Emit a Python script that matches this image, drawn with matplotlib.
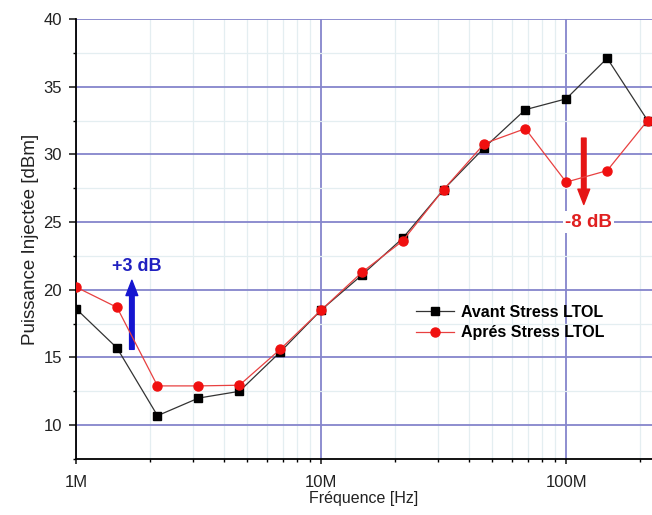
import numpy as np
import matplotlib
matplotlib.use('Agg')
import matplotlib.pyplot as plt
from matplotlib.ticker import FixedLocator, FixedFormatter, MultipleLocator, LogLocator, NullFormatter

plt.rcParams['font.family'] = ['Liberation Sans', 'DejaVu Sans']

# donnees
freq = [1e6, 1.47e6, 2.15e6, 3.16e6, 4.64e6, 6.81e6, 1e7, 1.47e7, 2.15e7,
        3.16e7, 4.64e7, 6.81e7, 1e8, 1.47e8, 2.15e8]
avant = [18.6, 15.7, 10.7, 12.0, 12.5, 15.4, 18.5, 21.1, 23.8,
         27.4, 30.5, 33.3, 34.1, 37.1, 32.5]
apres = [20.2, 18.7, 12.9, 12.9, 12.95, 15.6, 18.5, 21.3, 23.6,
         27.4, 30.8, 31.9, 27.95, 28.8, 32.5]

xticks = [1e6, 1e7, 1e8]
xticklabels = ['1M', '10M', '100M']
yticks = [10, 15, 20, 25, 30, 35, 40]

fig = plt.figure(figsize=(6.52, 5.15), dpi=100)
ax = fig.add_axes([0.1166, 0.1087, 0.8834, 0.8545])

ax.set_xscale('log')
ax.set_xlim(1e6, 2.24e8)
ax.set_ylim(7.5, 40)

# grilles
ax.xaxis.set_major_locator(FixedLocator(xticks))
ax.xaxis.set_major_formatter(FixedFormatter(xticklabels))
ax.xaxis.set_minor_locator(LogLocator(base=10, subs=np.arange(2, 10)))
ax.xaxis.set_minor_formatter(NullFormatter())
ax.yaxis.set_major_locator(FixedLocator(yticks))
ax.yaxis.set_minor_locator(MultipleLocator(2.5))
ax.grid(True, which='major', color='#8585cc', linewidth=1.3, zorder=0)
ax.grid(True, which='minor', color='#e4eef1', linewidth=0.9, zorder=0)
ax.set_axisbelow(True)

for s in ['top', 'right']:
    ax.spines[s].set_visible(False)
for s in ['left', 'bottom']:
    ax.spines[s].set_linewidth(1.3)
ax.tick_params(which='major', direction='out', length=5, width=1.2, labelsize=12,
               colors='#222222', pad=5)
ax.tick_params(axis='x', which='major', length=3.5, pad=8)
ax.tick_params(which='minor', direction='out', length=2.5, width=1.0)

ax.plot(freq, avant, '-s', color='#333333', linewidth=0.9, markersize=5.5,
        markerfacecolor='black', markeredgecolor='black', label='Avant Stress LTOL', zorder=3)
ax.plot(freq, apres, '-o', color='#e84040', linewidth=0.9, markersize=6.5,
        markerfacecolor='#f01010', markeredgecolor='#f01010', label='Aprés Stress LTOL', zorder=4)

# fleches
ax.annotate('', xy=(1.69e6, 20.7), xytext=(1.69e6, 15.6),
            arrowprops=dict(width=3.3, headwidth=8.5, headlength=11, color='#1515d0', shrink=0))
ax.text(1.77e6, 21.7, '+3 dB', color='#2020c0', fontsize=13, fontweight='bold', ha='center', va='center')

ax.annotate('', xy=(1.18e8, 26.3), xytext=(1.18e8, 31.2),
            arrowprops=dict(width=3.3, headwidth=8.5, headlength=11, color='#e51515', shrink=0))
ax.text(1.23e8, 25.0, '-8 dB', color='#e02020', fontsize=13.5, fontweight='bold', ha='center', va='center',
        bbox=dict(facecolor='white', edgecolor='none', pad=1.5))

ax.set_xlabel('Fréquence [Hz]', fontsize=11.5, color='#222222', labelpad=1)
ax.set_ylabel('Puissance Injectée [dBm]', fontsize=13.5, color='#222222', labelpad=3)

leg = ax.legend(loc='center left', bbox_to_anchor=(0.565, 0.31), frameon=False,
                prop={'weight': 'bold', 'size': 11.5}, handlelength=2.4, labelspacing=0.35,
                handletextpad=0.4)

fig.savefig('out.png', dpi=100)
